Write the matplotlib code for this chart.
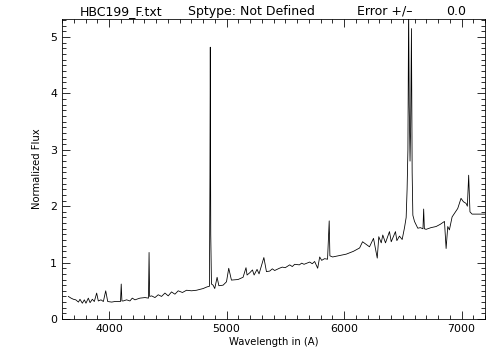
import matplotlib
matplotlib.use("Agg")
from matplotlib import pyplot as plt
from matplotlib.ticker import MultipleLocator

## spectrum (wavelength in A, normalized flux) ##
wave = [3654, 3677, 3697, 3717, 3740, 3753, 3773, 3790, 3804, 3824,
        3839, 3858, 3875, 3895, 3909, 3932, 3952, 3972, 3989, 4023,
        4050, 4079, 4098, 4104, 4110, 4121, 4150, 4178, 4198, 4221,
        4263, 4306, 4336, 4341, 4346, 4363, 4391, 4419, 4447, 4476,
        4504, 4532, 4561, 4589, 4625, 4660, 4702, 4745, 4801, 4835,
        4855, 4859, 4862, 4866, 4872, 4886, 4900, 4920, 4935, 4971,
        5000, 5019, 5042, 5098, 5141, 5166, 5175, 5198, 5221, 5235,
        5260, 5277, 5318, 5340, 5368, 5390, 5410, 5450, 5475, 5500,
        5538, 5560, 5580, 5620, 5640, 5660, 5708, 5730, 5750, 5776,
        5793, 5810, 5835, 5860, 5874, 5880, 5903, 5950, 6019, 6080,
        6133, 6158, 6217, 6251, 6283, 6296, 6317, 6330, 6353, 6387,
        6402, 6438, 6450, 6472, 6495, 6515, 6529, 6537, 6544, 6550,
        6555, 6562, 6567, 6574, 6580, 6586, 6600, 6628, 6650, 6672,
        6678, 6684, 6699, 6740, 6784, 6820, 6855, 6869, 6883, 6897,
        6920, 6968, 6996, 7016, 7039, 7050, 7061, 7072, 7090, 7200]
flux = [0.40, 0.37, 0.35, 0.34, 0.30, 0.35, 0.28, 0.34, 0.28, 0.37,
        0.29, 0.35, 0.31, 0.46, 0.32, 0.34, 0.31, 0.50, 0.31, 0.30,
        0.31, 0.31, 0.31, 0.62, 0.32, 0.32, 0.34, 0.32, 0.37, 0.34,
        0.37, 0.38, 0.37, 1.18, 0.40, 0.41, 0.38, 0.43, 0.40, 0.46,
        0.41, 0.48, 0.44, 0.50, 0.47, 0.51, 0.50, 0.51, 0.54, 0.57,
        0.58, 2.50, 4.82, 1.50, 0.62, 0.60, 0.54, 0.74, 0.59, 0.60,
        0.66, 0.90, 0.69, 0.70, 0.74, 0.91, 0.78, 0.82, 0.87, 0.78,
        0.88, 0.80, 1.09, 0.84, 0.85, 0.89, 0.86, 0.90, 0.92, 0.91,
        0.96, 0.93, 0.97, 0.96, 0.99, 0.97, 1.01, 0.98, 1.02, 0.90,
        1.10, 1.04, 1.07, 1.06, 1.74, 1.12, 1.10, 1.12, 1.15, 1.20,
        1.26, 1.37, 1.28, 1.43, 1.08, 1.46, 1.35, 1.49, 1.35, 1.55,
        1.37, 1.55, 1.39, 1.47, 1.41, 1.62, 1.80, 2.30, 3.00, 5.60,
        3.80, 2.80, 3.40, 5.15, 2.60, 1.84, 1.73, 1.61, 1.62, 1.60,
        1.95, 1.60, 1.59, 1.62, 1.64, 1.68, 1.73, 1.25, 1.64, 1.58,
        1.81, 1.96, 2.14, 2.08, 2.05, 2.00, 2.55, 1.90, 1.86, 1.86]

fig = plt.figure(figsize=(7, 5), dpi=72)
ax = fig.add_axes([62/504, 1-319/360, 423/504, 300/360])
ax.plot(wave, flux, color='black', lw=0.8)

ax.set_xlim(3600, 7200)
ax.set_ylim(0, 5.32)
ax.xaxis.set_major_locator(MultipleLocator(1000))
ax.xaxis.set_minor_locator(MultipleLocator(100))
ax.yaxis.set_major_locator(MultipleLocator(1))
ax.yaxis.set_minor_locator(MultipleLocator(0.1))
ax.tick_params(which='both', direction='in', top=True, right=True, width=0.8,
               labelsize=11, pad=5)
ax.tick_params(which='major', length=8)
ax.tick_params(which='minor', length=4)
for s in ax.spines.values():
    s.set_linewidth(0.8)

ax.set_xlabel('Wavelength in (A)', fontsize=10, labelpad=3)
ax.set_ylabel('Normalized Flux', fontsize=10, labelpad=8)

## IDL style title line ##
ty = 1 - 15/360
fig.text(80/504, ty, 'HBC199_F.txt', fontsize=12.5, va='baseline')
fig.text(188/504, ty, 'Sptype: Not Defined', fontsize=12.5, va='baseline')
fig.text(357/504, ty, 'Error +/\u2013', fontsize=12.5, va='baseline')
fig.text(446/504, ty, '0.0', fontsize=12.5, va='baseline')

fig.savefig('out.png', dpi=72)
